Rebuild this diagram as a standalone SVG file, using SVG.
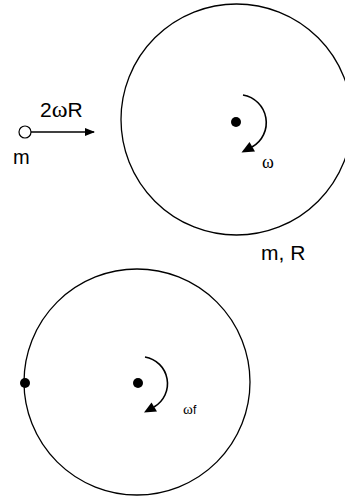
<svg xmlns="http://www.w3.org/2000/svg" width="345" height="497" viewBox="0 0 345 497">
<style>
.disk{fill:none;stroke:#000;stroke-width:1.3}
.spin{fill:none;stroke:#000;stroke-width:1.6}
.dot{fill:#000}
.sans{font-family:"Liberation Sans",Arial,sans-serif;fill:#000}
.serif{font-family:"Liberation Serif","Times New Roman",serif;fill:#000}
</style>
<defs>
<marker id="ah" markerWidth="10" markerHeight="8" refX="9" refY="4" orient="auto" markerUnits="userSpaceOnUse">
<path d="M0,0 L10,4 L0,8 Z" fill="#000"/>
</marker>
</defs>
<rect width="345" height="497" fill="#fff"/>
<g id="disk-top">
<circle class="disk" cx="236.5" cy="119.5" r="115.5"/>
<circle class="dot" cx="236" cy="122" r="5"/>
<text class="sans" x="261" y="260" font-size="21">m, R</text>
</g>
<g id="ball">
<circle cx="25" cy="132" r="6" fill="#fff" stroke="#000" stroke-width="1.2"/>
<text class="sans" x="40" y="117" font-size="21">2<tspan class="serif" font-size="24">ω</tspan>R</text>
<text class="sans" x="13" y="164" font-size="20">m</text>
</g>
<g id="disk-bottom">
<circle class="disk" cx="137" cy="382" r="113"/>
<circle class="dot" cx="138" cy="383" r="5"/>
<circle class="dot" cx="25" cy="383" r="5"/>
</g>
<g id="connectors">
<line x1="31" y1="132" x2="94" y2="132" stroke="#000" stroke-width="1.3" marker-end="url(#ah)"/>
<path class="spin" d="M243,95 A28,28 0 0 1 252,147"/>
<polygon class="dot" points="241.5,152.5 249.5,142 255,151.5"/>
<text class="serif" x="262" y="168" font-size="18">ω</text>
<path class="spin" d="M145,357 A27,27 0 0 1 154,407"/>
<polygon class="dot" points="144,412.5 151.5,402.5 157,411.5"/>
<text class="serif" x="183" y="414" font-size="15">ω<tspan class="sans" font-size="12">f</tspan></text>
</g>
</svg>
